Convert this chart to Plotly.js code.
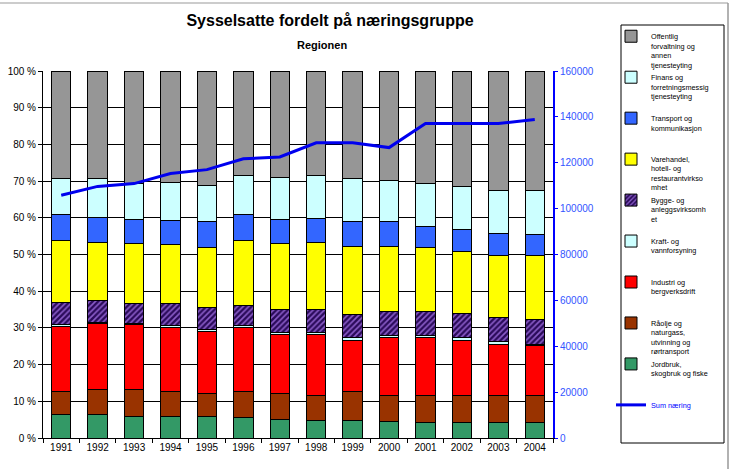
<!DOCTYPE html>
<html>
<head>
<meta charset="utf-8">
<script src="https://cdn.plot.ly/plotly-3.0.1.min.js"></script>
<style>html,body{margin:0;padding:0;background:#fff;}#chart{width:731px;height:469px;}</style>
</head>
<body>
<div id="chart"></div>
<script>
// ---- data ----
const years = ['1991','1992','1993','1994','1995','1996','1997','1998','1999','2000','2001','2002','2003','2004'];

const jordbruk   = [6.3, 6.3, 5.9, 5.9, 5.9, 5.6, 5.1, 4.8, 4.8, 4.4, 4.1, 4.1, 4.1, 4.1];
const raolje     = [6.5, 6.9, 7.3, 6.7, 6.3, 7.2, 7.1, 6.9, 8.0, 7.1, 7.6, 7.4, 7.4, 7.4];
const industri   = [17.5,17.9,17.6,17.5,16.8,17.3,16.1,16.6,13.9,15.9,15.7,15.2,14.1,13.6];
const kraft      = [0.5, 0.5, 0.5, 0.6, 0.7, 0.5, 0.5, 0.5, 0.6, 0.5, 0.5, 0.6, 0.6, 0.5];
const bygge      = [6.2, 5.8, 5.4, 6.0, 5.9, 5.5, 6.1, 6.1, 6.3, 6.6, 6.6, 6.5, 6.5, 6.6];
const varehandel = [16.8,16.0,16.4,16.0,16.4,17.7,18.2,18.5,18.7,17.8,17.5,17.0,17.1,17.6];
const transport  = [7.1, 6.8, 6.4, 6.6, 7.0, 7.1, 6.4, 6.3, 6.7, 6.7, 5.7, 5.9, 5.8, 5.6];
const finans     = [9.9, 10.6,9.8, 10.3,9.9, 10.7,11.6,11.9,11.7,11.2,11.6,11.7,11.9,12.1];
const offentlig  = [29.2,29.2,30.7,30.4,31.1,28.4,28.9,28.4,29.3,29.8,30.7,31.6,32.5,32.5];

const sumNaering = [105800,109700,110900,115300,117000,121700,122500,128700,128700,126600,137100,137100,137100,138900];

const seriesNames = {
  offentlig: 'Offentlig<br>forvaltning og<br>annen<br>tjenesteyting',
  finans: 'Finans og<br>forretningsmessig<br>tjenesteyting',
  transport: 'Transport og<br>kommunikasjon',
  varehandel: 'Varehandel,<br>hotell- og<br>restaurantvirkso<br>mhet',
  bygge: 'Bygge- og<br>anleggsvirksomh<br>et',
  kraft: 'Kraft- og<br>vannforsyning',
  industri: 'Industri og<br>bergverksdrift',
  raolje: 'Råolje og<br>naturgass,<br>utvinning og<br>rørtransport',
  jordbruk: 'Jordbruk,<br>skogbruk og fiske',
  sum: 'Sum næring'
};

const chartTitle = 'Sysselsatte fordelt på næringsgruppe';
const chartSubtitle = 'Regionen';

// ---- styling helpers ----
function pad(name){
  let n = name.split('<br>').length;
  let s = name;
  while(n < 4){ s += '<br> '; n++; }
  return s;
}
const FONT = 'Liberation Sans, Arial, sans-serif';
const outline = {color:'#000000', width:1};

function bar(y, key, color, rank, extra){
  const m = Object.assign({color: color, line: outline}, extra || {});
  return {type:'bar', x: years, y: y, name: pad(seriesNames[key]), marker: m,
          legendrank: rank, hoverinfo:'skip'};
}

const traces = [
  bar(jordbruk, 'jordbruk', '#339966', 9),
  bar(raolje, 'raolje', '#993300', 8),
  bar(industri, 'industri', '#ff0000', 7),
  bar(kraft, 'kraft', '#ccffff', 6),
  bar(bygge, 'bygge', '#2a0a5a', 5, {pattern:{shape:'/', fgcolor:'#8a5cc8', bgcolor:'#2a0a5a', size:4, solidity:0.4}}),
  bar(varehandel, 'varehandel', '#ffff00', 4),
  bar(transport, 'transport', '#3366ff', 3),
  bar(finans, 'finans', '#ccffff', 2),
  bar(offentlig, 'offentlig', '#969696', 1),
  {type:'scatter', mode:'lines', x: years, y: sumNaering, yaxis:'y2',
   name: pad('<span style="color:#0000ff">' + seriesNames.sum + '</span>'),
   line:{color:'#0000ee', width:3}, legendrank:10, hoverinfo:'skip'}
];

const L = 43, T = 71, W = 510, H = 367;
function px2x(px){ return (px - L)/W; }
function px2y(py){ return (T + H - py)/H; }

const layout = {
  width:731, height:469,
  margin:{l:L, r:731-L-W, t:T, b:469-T-H, pad:0},
  paper_bgcolor:'#ffffff', plot_bgcolor:'#ffffff',
  font:{family:FONT, color:'#000000', size:10},
  barmode:'stack', bargap:0.465,
  showlegend:true,
  title:{text:'<b>' + chartTitle + '</b>', font:{family:FONT, size:16, color:'#000'},
         xref:'container', x:330/731, xanchor:'center', yref:'container', y:1-20/469, yanchor:'middle'},
  xaxis:{type:'category', tickson:'boundaries', ticks:'outside', ticklen:4, tickcolor:'#000',
         showline:true, linecolor:'#000', linewidth:1, showgrid:false,
         tickfont:{family:FONT, size:10, color:'#000'}},
  yaxis:{range:[0,100], dtick:10, ticksuffix:' %', ticks:'outside', ticklen:4, tickcolor:'#000',
         showline:true, linecolor:'#000', linewidth:1, showgrid:true, gridcolor:'#000', gridwidth:1,
         zeroline:false, tickfont:{family:FONT, size:10, color:'#000'}, fixedrange:true},
  yaxis2:{overlaying:'y', side:'right', range:[0,160000], dtick:20000, tickformat:'d',
          ticks:'outside', ticklen:3, tickcolor:'#0000ff', showline:true, linecolor:'#0000ff', linewidth:2,
          showgrid:false, zeroline:false, tickfont:{family:FONT, size:10, color:'#3355ff'}},
  legend:{x:px2x(611), y:px2y(25), xanchor:'left', yanchor:'top', valign:'top',
          traceorder:'normal', maxheight:469,
          bgcolor:'rgba(255,255,255,0)', borderwidth:0, tracegroupgap:0,
          font:{family:FONT, size:7.3, color:'#000'}},
  annotations:[
    {text:'<b>' + chartSubtitle + '</b>', xref:'paper', yref:'paper', x:px2x(322), y:px2y(45),
     xanchor:'center', yanchor:'middle', showarrow:false, font:{family:FONT, size:11, color:'#000'}}
  ],
  shapes:[
    {type:'rect', xref:'paper', yref:'paper', x0:px2x(621), x1:px2x(724), y0:px2y(443), y1:px2y(25),
     line:{color:'#000', width:1}, fillcolor:'rgba(0,0,0,0)', layer:'above'},
    {type:'line', xref:'paper', yref:'paper', x0:px2x(0), x1:px2x(728), y0:px2y(3), y1:px2y(3),
     line:{color:'#999', width:1}},
    {type:'line', xref:'paper', yref:'paper', x0:px2x(728), x1:px2x(728), y0:px2y(3), y1:px2y(469),
     line:{color:'#999', width:1.5}}
  ]
};

Plotly.newPlot('chart', traces, layout, {displayModeBar:false, staticPlot:true});
</script>
</body>
</html>
